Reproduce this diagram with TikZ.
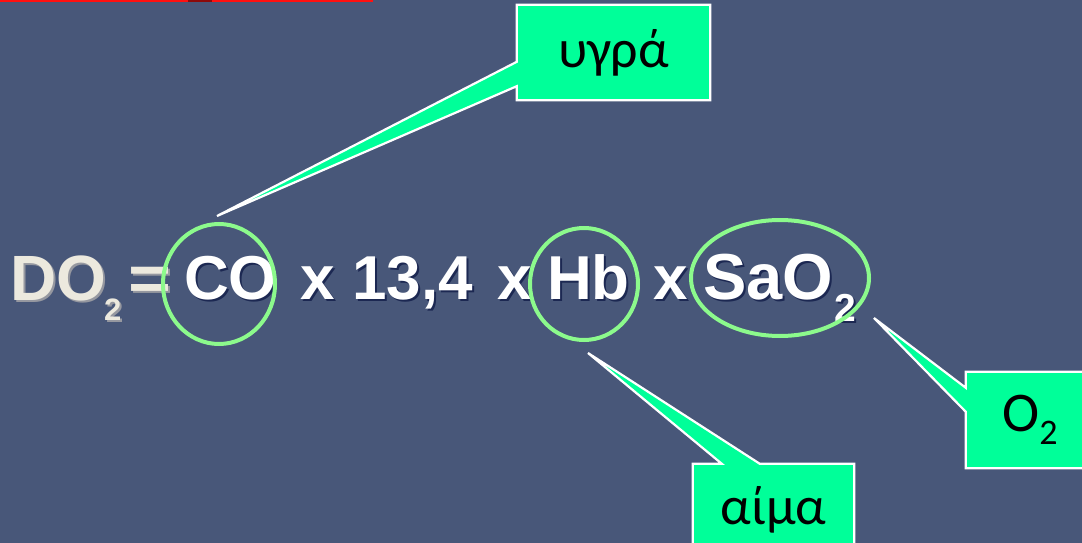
\documentclass[tikz,border=0pt]{standalone}
\usepackage{fontspec}
\setmainfont{Liberation Sans}
\newfontfamily\calloutfont{Carlito}
\usetikzlibrary{backgrounds}

\definecolor{slate}{RGB}{72,87,121}
\definecolor{mint}{RGB}{0,255,153}
\definecolor{ringgreen}{RGB}{140,250,140}
\definecolor{eqshadow}{RGB}{28,40,82}
\definecolor{cream}{RGB}{236,233,222}
\definecolor{creamshadow}{RGB}{150,152,160}
\definecolor{topred}{RGB}{255,16,16}
\definecolor{darkred}{RGB}{140,10,10}

% text with a small drop shadow behind it
\newcommand\shtext[2]{\makebox[0pt][l]{\kern2pt\raisebox{-2.5pt}{\textcolor{#1}{#2}}}#2}

\tikzset{
  eqtext/.style={inner sep=0pt, anchor=base west, text=white,
    font=\fontsize{62pt}{62pt}\selectfont\bfseries},
  eqsub/.style={inner sep=0pt, anchor=base west, text=white,
    font=\fontsize{39pt}{39pt}\selectfont\bfseries},
  dotext/.style={inner sep=0pt, anchor=base west, text=cream,
    font=\fontsize{64pt}{64pt}\selectfont\bfseries},
  ring/.style={draw=ringgreen, line width=4pt},
  callbox/.style={inner sep=0pt, text=black},
  calloutshape/.style={fill=mint, draw=white, line width=2.2pt, line join=miter},
}

\begin{document}
\begin{tikzpicture}[x=1pt, y=-1pt]
\useasboundingbox (0,0) rectangle (1082,543);
\clip (0,0) rectangle (1082,543);

% thin red rule along the top edge
\fill[topred] (0,0) rectangle (373,2.5);
\fill[darkred] (188,0) rectangle (212,2.5);

% the equation
\node[dotext] (do) at (10,300) {\shtext{creamshadow}{DO}};
\node[dotext, font=\fontsize{31pt}{31pt}\selectfont\bfseries] (dosub) at (104,320) {\shtext{creamshadow}{2}};
\node[dotext, xscale=1.15] (eq) at (128,300) {\shtext{creamshadow}{=}};
\node[eqtext] (co) at (184,299) {\shtext{eqshadow}{CO}};
\node[eqtext] (x1) at (300,299) {\shtext{eqshadow}{x}};
\node[eqtext] (num) at (352,299) {\shtext{eqshadow}{13,4}};
\node[eqtext] (x2) at (497,299) {\shtext{eqshadow}{x}};
\node[eqtext] (hb) at (547,299) {\shtext{eqshadow}{Hb}};
\node[eqtext] (x3) at (653,299) {\shtext{eqshadow}{x}};
\node[eqtext, font=\fontsize{65pt}{65pt}\selectfont\bfseries] (sao) at (703,299) {\shtext{eqshadow}{SaO}};
\node[eqsub] (saosub) at (834,321) {\shtext{eqshadow}{2}};

% rings round the factors
\draw[ring] (219,284) ellipse [x radius=56, y radius=60];
\draw[ring] (584,284) ellipse [x radius=54, y radius=56];
\draw[ring] (780,278) ellipse [x radius=89, y radius=58];

% callout boxes
\node[callbox, minimum width=193pt, minimum height=95pt,
      font=\calloutfont\fontsize{54pt}{54pt}\selectfont] (ugra) at (613.5,52.5) {υγρά};
\node[callbox, minimum width=161pt, minimum height=92pt,
      font=\calloutfont\fontsize{54pt}{54pt}\selectfont] (aima) at (773.5,510) {αίμα};
\node[callbox, minimum width=128pt, minimum height=96pt,
      font=\calloutfont\fontsize{56pt}{56pt}\selectfont] (oxy) at (1030,420)
      {O\raisebox{-13pt}{\fontsize{36pt}{36pt}\selectfont 2}};

% callout tips
\coordinate (tipU) at (217,216);
\coordinate (tipA) at (588,353);
\coordinate (tipO) at (874,318);

\begin{pgfonlayer}{background}
  \fill[slate] (0,0) rectangle (1082,543);
  \path[calloutshape] (ugra.north west) -- (ugra.north east) -- (ugra.south east)
    -- (ugra.south west) -- ([yshift=14pt]ugra.south west) -- (tipU)
    -- ([yshift=-57pt]ugra.north west) -- cycle;
  \path[calloutshape] (aima.north west) -- ([xshift=29pt]aima.north west) -- (tipA)
    -- ([xshift=67pt]aima.north west) -- (aima.north east) -- (aima.south east)
    -- (aima.south west) -- cycle;
  \path[calloutshape] (oxy.north west) -- (oxy.north east) -- (oxy.south east)
    -- (oxy.south west) -- ([yshift=-40pt]oxy.north west) -- (tipO)
    -- ([yshift=-16pt]oxy.north west) -- cycle;
\end{pgfonlayer}
\end{tikzpicture}
\end{document}
